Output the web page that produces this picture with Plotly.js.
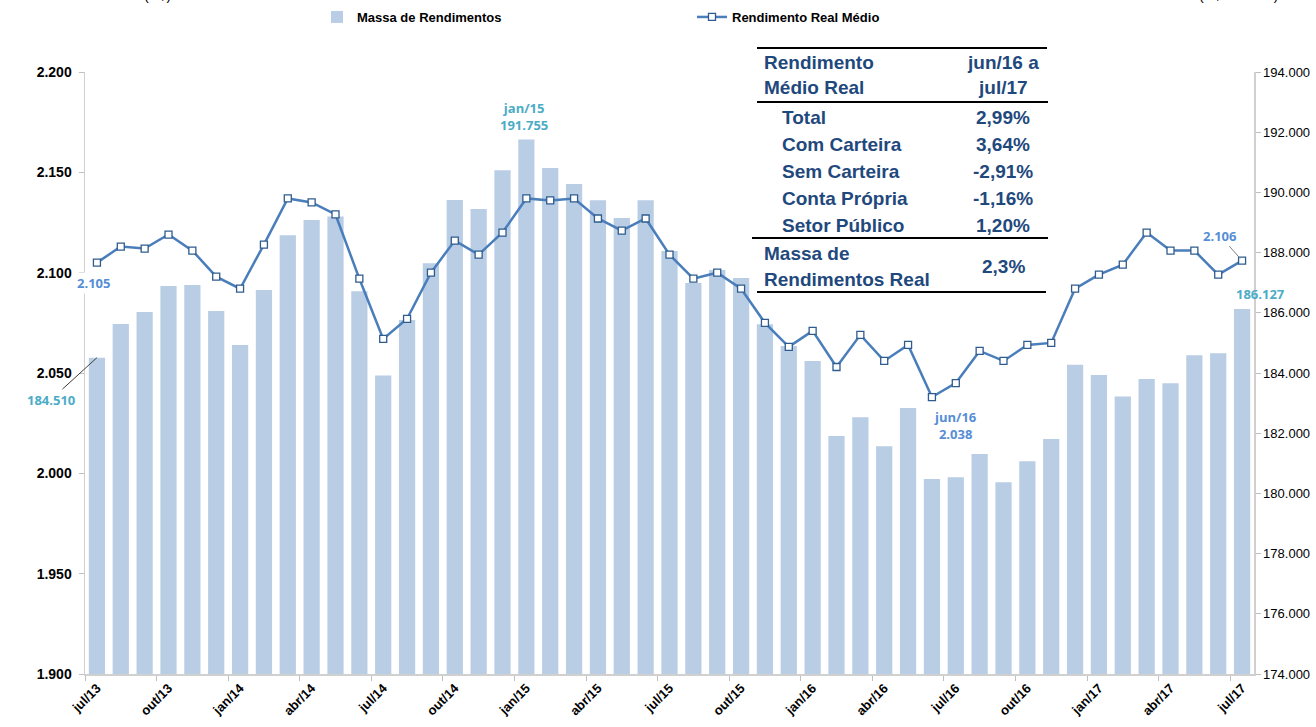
<!DOCTYPE html>
<html>
<head>
<meta charset="utf-8">
<script src="https://cdn.plot.ly/plotly-3.0.1.min.js"></script>
<style>
html,body{margin:0;padding:0;background:#fff;}
#chart{width:1316px;height:727px;}
</style>
</head>
<body>
<div id="chart"></div>
<script>
// ---- data ----
var months = ['jul/13','ago/13','set/13','out/13','nov/13','dez/13','jan/14','fev/14','mar/14','abr/14','mai/14','jun/14',
  'jul/14','ago/14','set/14','out/14','nov/14','dez/14','jan/15','fev/15','mar/15','abr/15','mai/15','jun/15',
  'jul/15','ago/15','set/15','out/15','nov/15','dez/15','jan/16','fev/16','mar/16','abr/16','mai/16','jun/16',
  'jul/16','ago/16','set/16','out/16','nov/16','dez/16','jan/17','fev/17','mar/17','abr/17','mai/17','jun/17','jul/17'];

var massaRendimentos = [184510,185630,186030,186890,186920,186060,184930,186760,188580,189080,189200,186720,
  183920,185760,187650,189750,189450,190740,191755,190810,190280,189740,189150,189740,
  188050,186990,187420,187160,185620,184900,184400,181910,182530,181570,182840,180480,
  180540,181310,180370,181070,181810,184270,183930,183220,183800,183660,184590,184660,186127];

var rendimentoMedio = [2105,2113,2112,2119,2111,2098,2092,2114,2137,2135,2129,2097,
  2067,2077,2100,2116,2109,2120,2137,2136,2137,2127,2121,2127,
  2109,2097,2100,2092,2075,2063,2071,2053,2069,2056,2064,2038,
  2045,2061,2056,2064,2065,2092,2099,2104,2120,2111,2111,2099,2106];

var tableHeader = [['Rendimento','jun/16 a'],['Médio Real','jul/17']];
var tableRows = [['Total','2,99%'],['Com Carteira','3,64%'],['Sem Carteira','-2,91%'],['Conta Própria','-1,16%'],['Setor Público','1,20%']];
var tableFooter = [['Massa de','Rendimentos Real'],'2,3%'];

// ---- helpers ----
function fmt(n){ return String(Math.round(n)).replace(/\B(?=(\d{3})+(?!\d))/g,'.'); }
var PL=85, PR=1254, PT=72, PB=674;
function px(x){ return (x-PL)/(PR-PL); }
function py(y){ return (PB-y)/(PB-PT); }

var barColor='#B9CDE5', lineColor='#4A7EBB', tealCol='#4BACC6', blueCol='#558ED5', tblCol='#1F497D';

var traces = [
  {type:'bar', name:'Massa de Rendimentos', x:months, y:massaRendimentos, yaxis:'y',
   marker:{color:barColor, line:{width:0}}, hoverinfo:'skip'},
  {type:'scatter', mode:'lines+markers', name:'Rendimento Real Médio', x:months, y:rendimentoMedio, yaxis:'y2',
   line:{color:lineColor, width:2.5}, marker:{symbol:'square', size:7, color:'#ffffff', line:{color:'#2F5C8F', width:1.3}},
   hoverinfo:'skip'}
];

var last = months.length-1;
var iMax = massaRendimentos.indexOf(Math.max.apply(null, massaRendimentos));
var iMin = rendimentoMedio.indexOf(Math.min.apply(null, rendimentoMedio));

var lblFont = function(c){ return {family:'Open Sans, Arial', size:13, color:c, weight:'bold'}; };
var ann = [];
// data labels
ann.push({x:months[0], y:massaRendimentos[0], xref:'x', yref:'y', text:fmt(massaRendimentos[0]),
  showarrow:true, arrowhead:0, arrowwidth:1, arrowcolor:'#404040', ax:-46, ay:42, standoff:0,
  font:lblFont(tealCol)});
ann.push({x:months[0], y:rendimentoMedio[0], xref:'x', yref:'y2', text:fmt(rendimentoMedio[0]),
  showarrow:false, yshift:-20, xshift:-3, font:lblFont(blueCol), bgcolor:'#ffffff'});
ann.push({x:months[iMax], y:massaRendimentos[iMax], xref:'x', yref:'y', text:months[iMax]+'<br>'+fmt(massaRendimentos[iMax]),
  showarrow:false, yanchor:'bottom', yshift:4, xshift:-2, font:lblFont(tealCol)});
ann.push({x:months[iMin], y:rendimentoMedio[iMin], xref:'x', yref:'y2', text:months[iMin]+'<br>'+fmt(rendimentoMedio[iMin]),
  showarrow:true, arrowhead:0, arrowwidth:1, arrowcolor:'#808080', ax:24, ay:28, standoff:3, font:lblFont(blueCol)});
ann.push({x:months[last], y:rendimentoMedio[last], xref:'x', yref:'y2', text:fmt(rendimentoMedio[last]),
  showarrow:true, arrowhead:0, arrowwidth:1, arrowcolor:'#808080', ax:-22, ay:-25, standoff:3, font:lblFont(blueCol)});
ann.push({x:months[last], y:massaRendimentos[last], xref:'x', yref:'y', text:fmt(massaRendimentos[last]),
  showarrow:false, xshift:18, yshift:15, font:lblFont(tealCol)});

// clipped unit labels at top (cut by the image edge, as in the source)
ann.push({xref:'paper', yref:'paper', x:px(142), y:py(5), yanchor:'bottom', text:'(R$)', showarrow:false,
  font:{family:'Arial', size:14, color:'#000'}});
ann.push({xref:'paper', yref:'paper', x:px(1280), y:py(5), yanchor:'bottom', text:'(R$ milhões)', showarrow:false,
  font:{family:'Arial', size:14, color:'#000'}});

// table
var tf = {family:'Liberation Sans, Arial', size:19, color:tblCol, weight:'bold'};
var colL = 762, colL2 = 780, colR = 1003;
var hy = [62, 88];
tableHeader.forEach(function(r,i){
  ann.push({xref:'paper', yref:'paper', x:px(colL), y:py(hy[i]), xanchor:'left', yanchor:'middle', text:r[0], showarrow:false, font:tf});
  ann.push({xref:'paper', yref:'paper', x:px(colR), y:py(hy[i]), xanchor:'center', yanchor:'middle', text:r[1], showarrow:false, font:tf});
});
var ry = [117,144,171,198,225];
tableRows.forEach(function(r,i){
  ann.push({xref:'paper', yref:'paper', x:px(colL2), y:py(ry[i]), xanchor:'left', yanchor:'middle', text:r[0], showarrow:false, font:tf});
  ann.push({xref:'paper', yref:'paper', x:px(colR), y:py(ry[i]), xanchor:'center', yanchor:'middle', text:r[1], showarrow:false, font:tf});
});
ann.push({xref:'paper', yref:'paper', x:px(colL), y:py(253), xanchor:'left', yanchor:'middle', text:tableFooter[0][0], showarrow:false, font:tf});
ann.push({xref:'paper', yref:'paper', x:px(colL), y:py(279), xanchor:'left', yanchor:'middle', text:tableFooter[0][1], showarrow:false, font:tf});
ann.push({xref:'paper', yref:'paper', x:px(colR), y:py(266), xanchor:'center', yanchor:'middle', text:tableFooter[1], showarrow:false, font:tf});

function hline(x0,x1,y,w){ return {type:'line', xref:'paper', yref:'paper', x0:px(x0), x1:px(x1), y0:py(y), y1:py(y), line:{color:'#000', width:w}}; }
var shapes = [hline(757,1047,48,2), hline(757,1048,102,2), hline(752,1048,238,2), hline(757,1046,292,2)];

var layout = {
  width:1316, height:727,
  margin:{l:PL, r:1316-PR, t:PT, b:727-PB, autoexpand:false},
  paper_bgcolor:'#ffffff', plot_bgcolor:'#ffffff',
  separators:',.',
  showlegend:true,
  legend:{orientation:'h', x:px(317), xanchor:'left', y:py(17), yanchor:'middle',
    entrywidth:330, font:{family:'Arial', size:13, color:'#000', weight:'bold'}, bgcolor:'rgba(0,0,0,0)', traceorder:'normal'},
  bargap:0.32,
  xaxis:{type:'category', range:[-0.5, months.length-0.5], autorange:false, tickmode:'linear', tick0:0, dtick:3, tickson:'boundaries', tickangle:-45,
    ticks:'outside', ticklen:5, tickcolor:'#BFBFBF', showline:true, linecolor:'#D0D0D0', linewidth:1.5,
    showgrid:false, zeroline:false, automargin:false,
    tickfont:{family:'Arial', size:13, color:'#000', weight:'bold'}},
  yaxis:{side:'right', range:[174000,194000], dtick:2000, tickformat:',d', showgrid:false, zeroline:false,
    showline:true, linecolor:'#D0D0D0', linewidth:1.5, ticks:'outside', ticklen:5, tickcolor:'#BFBFBF', automargin:false,
    tickfont:{family:'Arial', size:13, color:'#000'}},
  yaxis2:{overlaying:'y', side:'left', range:[1900,2200], dtick:50, tickformat:',d', showgrid:false, zeroline:false,
    showline:true, linecolor:'#D0D0D0', linewidth:1.5, ticks:'outside', ticklen:5, tickcolor:'#BFBFBF', automargin:false,
    ticklabelstandoff:4,
    tickfont:{family:'Arial', size:14, color:'#000', weight:'bold'}},
  annotations:ann,
  shapes:shapes
};

Plotly.newPlot('chart', traces, layout, {displayModeBar:false, staticPlot:true});
</script>
</body>
</html>
